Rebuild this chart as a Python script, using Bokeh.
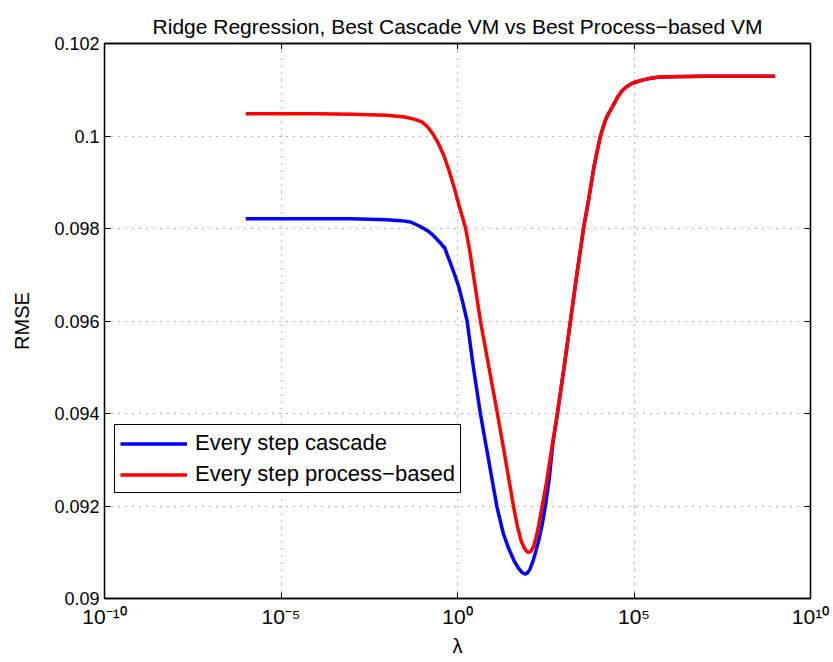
from bokeh.plotting import figure
from bokeh.models import (LogAxis, LinearAxis, FixedTicker, CustomJSTickFormatter,
                          Range1d, Legend, LegendItem)
from bokeh.embed import file_html
from bokeh.resources import INLINE

# ---- data (log10 lambda, RMSE) ----
red_loglam = [-6.0, -4.0, -3.0, -2.0, -1.5, -1.2, -1.0, -0.85, -0.7, -0.55, -0.4, -0.25,
              -0.1, 0.05, 0.14, 0.23, 0.34, 0.45, 0.65, 0.89, 1.13, 1.36, 1.59, 1.7, 1.8,
              1.9, 1.97, 2.02, 2.08, 2.15, 2.22, 2.3, 2.4, 2.52, 2.62, 2.83, 3.02, 3.2,
              3.38, 3.57, 3.72, 3.87, 3.97, 4.05, 4.13, 4.2, 4.29, 4.38, 4.52, 4.65, 4.8,
              4.95, 5.15, 5.4, 5.66, 6.0, 7.0, 9.0]
red_rmse = [0.10048, 0.10048, 0.10047, 0.10045, 0.10041, 0.10036, 0.10030, 0.10020,
            0.10005, 0.09985, 0.09960, 0.09928, 0.09890, 0.09848, 0.09825, 0.09800,
            0.09755, 0.09700, 0.09600, 0.09500, 0.09400, 0.09300, 0.09198, 0.09155,
            0.09125, 0.09108, 0.09101, 0.09100, 0.09102, 0.09112, 0.09130, 0.09158,
            0.09200, 0.09250, 0.09300, 0.09400, 0.09500, 0.09600, 0.09700, 0.09800,
            0.09865, 0.09935, 0.09972, 0.10000, 0.10020, 0.10036, 0.10050, 0.10062,
            0.10082, 0.10097, 0.10107, 0.10114, 0.10119, 0.10124, 0.10127, 0.10128,
            0.10129, 0.10129]

blue_loglam = [-6.0, -3.0, -2.0, -1.6, -1.33, -1.1, -0.86, -0.7, -0.55, -0.45, -0.40,
               -0.37, -0.3, -0.2, -0.08, 0.04, 0.15, 0.27, 0.45, 0.65, 0.88, 1.12, 1.3,
               1.45, 1.6, 1.72, 1.82, 1.91, 1.98, 2.05, 2.12, 2.2, 2.3, 2.4, 2.5, 2.6,
               2.7, 2.83, 3.02, 3.2, 3.38, 3.57, 3.72, 3.87, 3.97, 4.05, 4.13, 4.2, 4.29,
               4.38, 4.52, 4.65, 4.8, 4.95, 5.15, 5.4, 5.66, 6.0, 7.0, 9.0]
blue_rmse = [0.09821, 0.09821, 0.09819, 0.09817, 0.09814, 0.09806, 0.09796, 0.09786,
             0.09774, 0.09766, 0.09760, 0.09760, 0.09745, 0.09725, 0.09700, 0.09673,
             0.09640, 0.09601, 0.09500, 0.09399, 0.09300, 0.09197, 0.09140, 0.09108,
             0.09082, 0.09066, 0.09057, 0.09053, 0.09055, 0.09063, 0.09077, 0.09097,
             0.09125, 0.09160, 0.09205, 0.09260, 0.09335, 0.09400, 0.09500, 0.09600,
             0.09700, 0.09800, 0.09865, 0.09935, 0.09972, 0.10000, 0.10020, 0.10036,
             0.10050, 0.10062, 0.10082, 0.10097, 0.10107, 0.10114, 0.10119, 0.10124,
             0.10127, 0.10128, 0.10129, 0.10129]

x_ticks = [1e-10, 1e-5, 1, 1e5, 1e10]
y_ticks = [0.09, 0.092, 0.094, 0.096, 0.098, 0.1, 0.102]
series_names = ["Every step cascade", "Every step process\u2212based"]
title_text = "Ridge Regression, Best Cascade VM vs Best Process\u2212based VM"

red_lam = [10 ** v for v in red_loglam]
blue_lam = [10 ** v for v in blue_loglam]

FONT = "Liberation Sans"

p = figure(width=833, height=662, x_axis_type="log",
           x_range=Range1d(1e-10, 1e10), y_range=Range1d(0.09, 0.102),
           output_backend="svg", toolbar_location=None,
           min_border_left=104, min_border_right=23, min_border_top=43,
           min_border_bottom=64, title=title_text)
p.title.align = "center"
p.title.text_font = FONT
p.title.text_font_size = "21px"
p.title.text_font_style = "normal"
p.title.text_color = "black"
p.title.standoff = 12
p.outline_line_color = "black"
p.outline_line_width = 1.3
p.outline_line_alpha = 1
p.background_fill_color = "white"
p.border_fill_color = "white"

xfmt = CustomJSTickFormatter(code="""
const sup = {'-':'\\u207b','0':'\\u2070','1':'\\u00b9','2':'\\u00b2','3':'\\u00b3','4':'\\u2074',
             '5':'\\u2075','6':'\\u2076','7':'\\u2077','8':'\\u2078','9':'\\u2079'};
const e = Math.round(Math.log10(tick)).toString();
let s = '';
for (const c of e) s += sup[c];
return '10' + s;
""")
yfmt = CustomJSTickFormatter(code="return tick.toString();")

for ax in p.xaxis:
    ax.ticker = FixedTicker(ticks=x_ticks)
    ax.formatter = xfmt
    ax.axis_label = "\u03bb"
for ax in p.yaxis:
    ax.ticker = FixedTicker(ticks=y_ticks)
    ax.formatter = yfmt
    ax.axis_label = "RMSE"

for ax in list(p.xaxis) + list(p.yaxis):
    ax.major_tick_in = 6
    ax.major_tick_out = 0
    ax.minor_tick_in = 0
    ax.minor_tick_out = 0
    ax.axis_line_color = "black"
    ax.axis_line_width = 1.3
    ax.major_tick_line_color = "black"
    ax.major_label_text_font = FONT
    ax.major_label_text_font_size = "18px"
    ax.major_label_text_color = "black"
    ax.axis_label_text_font = FONT
    ax.axis_label_text_font_size = "20px"
    ax.axis_label_text_font_style = "normal"
    ax.axis_label_text_color = "black"
for ax in p.xaxis:
    ax.major_label_text_font_size = "21px"
    ax.major_label_standoff = 6
    ax.axis_label_standoff = 4
for ax in p.yaxis:
    ax.major_label_standoff = 5
    ax.axis_label_standoff = 18

# mirrored ticks on top and right (MATLAB box)
top = LogAxis(ticker=FixedTicker(ticks=x_ticks), major_label_text_font_size="2px",
              major_label_text_alpha=0, major_label_standoff=0,
              major_tick_in=6, major_tick_out=0, minor_tick_in=0, minor_tick_out=0,
              axis_line_color="black", axis_line_width=1.3)
right = LinearAxis(ticker=FixedTicker(ticks=y_ticks), major_label_text_font_size="2px",
                   major_label_text_alpha=0, major_label_standoff=0,
                   major_tick_in=6, major_tick_out=0, minor_tick_in=0, minor_tick_out=0,
                   axis_line_color="black", axis_line_width=1.3)
p.add_layout(top, "above")
p.add_layout(right, "right")

for g in (p.xgrid, p.ygrid):
    g.grid_line_color = "#666666"
    g.grid_line_dash = "1 6"
    g.grid_line_width = 1
p.xgrid.ticker = FixedTicker(ticks=x_ticks)
p.ygrid.ticker = FixedTicker(ticks=y_ticks)

rb = p.line(blue_lam, blue_rmse, line_color="#0000FF", line_width=3.5,
            line_join="round")
rr = p.line(red_lam, red_rmse, line_color="#FF0000", line_width=3.5,
            line_join="round")

legend = Legend(items=[LegendItem(label=series_names[0], renderers=[rb]),
                       LegendItem(label=series_names[1], renderers=[rr])],
                location=(10, 105))
legend.border_line_color = "black"
legend.border_line_alpha = 1
legend.border_line_width = 1.3
legend.background_fill_alpha = 1
legend.label_text_font = FONT
legend.label_text_font_size = "22px"
legend.label_text_color = "black"
legend.glyph_width = 67
legend.glyph_height = 25
legend.label_height = 25
legend.label_standoff = 8
legend.padding = 5
legend.spacing = 5
legend.margin = 0
p.add_layout(legend, "center")

open("out.html", "w").write(file_html(p, INLINE))
